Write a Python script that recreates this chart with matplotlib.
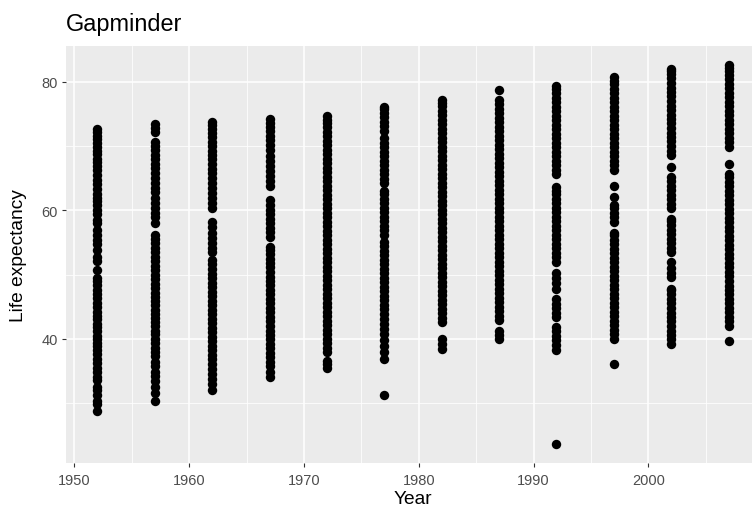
import matplotlib.pyplot as plt
import numpy as np
import pandas as pd

plt.rcParams['font.family'] = ['Liberation Sans', 'DejaVu Sans']

# life expectancy values, one list per survey year
years = [1952, 1957, 1962, 1967, 1972, 1977, 1982, 1987, 1992, 1997, 2002, 2007]

life_1952 = [28.80, 29.90, 30.33, 31.29, 31.98, 32.50, 33.61, 34.08, 34.81, 35.46, 36.32, 36.93,
             37.58, 38.22, 38.87, 39.41, 39.98, 40.41, 41.21, 41.91, 42.27, 43.07, 43.64, 44.26,
             45.01, 45.63, 46.31, 47.00, 47.62, 48.45, 49.02, 49.50, 50.79, 52.13, 52.72, 53.82,
             54.75, 55.45, 56.20, 57.00, 57.99, 58.53, 59.42, 60.00, 60.86, 61.42, 62.00, 62.61,
             63.30, 64.03, 64.80, 65.51, 66.22, 66.91, 67.50, 68.00, 68.75, 69.30, 69.84, 70.42,
             71.07, 71.62, 72.13, 72.67]
life_1957 = [30.33, 31.57, 32.47, 33.49, 34.20, 34.91, 35.76, 36.46, 37.28, 38.00, 38.60, 39.33,
             40.02, 40.72, 41.28, 41.95, 42.62, 43.30, 43.87, 44.47, 45.25, 45.87, 46.50, 47.13,
             47.91, 48.61, 49.33, 50.02, 50.73, 51.40, 52.06, 52.81, 53.54, 54.20, 54.96, 55.62,
             56.14, 58.10, 58.91, 59.59, 60.37, 61.17, 61.99, 62.81, 63.50, 64.29, 65.03, 65.75,
             66.52, 67.20, 67.96, 68.69, 69.37, 70.02, 70.60, 72.20, 72.87, 73.47]
life_1962 = [32.00, 33.02, 33.81, 34.59, 35.31, 36.03, 36.82, 37.49, 38.24, 38.92, 39.60, 40.32,
             41.00, 41.72, 42.41, 43.13, 43.83, 44.51, 45.20, 45.93, 46.62, 47.30, 48.01, 48.73,
             49.42, 50.11, 50.82, 51.60, 52.31, 53.56, 54.12, 54.88, 55.71, 56.48, 57.43, 58.21,
             60.33, 61.07, 61.89, 62.71, 63.52, 64.28, 65.03, 65.82, 66.51, 67.20, 67.92, 68.62,
             69.30, 70.03, 70.71, 71.42, 72.03, 72.67, 73.23, 73.68]
life_1967 = [34.02, 34.91, 35.73, 36.44, 37.12, 37.83, 38.52, 39.20, 39.91, 40.63, 41.31, 42.02,
             42.72, 43.41, 44.12, 44.83, 45.52, 46.21, 46.92, 47.61, 48.32, 49.03, 49.71, 50.42,
             51.13, 51.82, 52.51, 53.22, 53.81, 54.34, 55.93, 56.62, 57.31, 58.02, 58.71, 59.43,
             60.12, 60.91, 61.62, 63.72, 64.53, 65.31, 66.12, 66.93, 67.72, 68.51, 69.32, 70.13,
             70.92, 71.63, 72.31, 73.02, 73.61, 74.16]
life_1972 = [35.40, 36.09, 36.49, 37.91, 38.62, 39.31, 40.03, 40.72, 41.44, 42.11, 42.83, 43.52,
             44.21, 44.93, 45.62, 46.31, 47.02, 47.73, 48.42, 49.11, 49.83, 50.52, 51.21, 51.93,
             52.61, 53.33, 54.01, 54.72, 55.42, 56.11, 56.83, 57.52, 58.21, 58.92, 59.61, 60.33,
             61.02, 61.72, 62.43, 63.11, 63.82, 64.53, 65.21, 65.93, 66.62, 67.31, 68.02, 68.71,
             69.42, 70.11, 70.82, 71.51, 72.22, 72.91, 73.52, 74.13, 74.72]
life_1977 = [31.22, 36.90, 38.02, 38.91, 39.82, 40.71, 41.52, 42.31, 43.12, 43.91, 44.62, 45.31,
             46.02, 46.71, 47.42, 48.11, 48.82, 49.51, 50.22, 50.91, 51.62, 52.31, 53.02, 53.71,
             54.42, 55.03, 56.22, 56.91, 57.62, 58.31, 59.02, 59.71, 60.42, 61.11, 61.82, 62.51,
             63.02, 64.21, 64.92, 65.61, 66.32, 67.01, 67.72, 68.41, 69.12, 69.81, 70.52, 71.21,
             72.42, 73.11, 73.82, 74.51, 75.22, 75.71, 76.11]
life_1982 = [38.45, 39.21, 40.02, 42.61, 43.32, 44.01, 44.72, 45.41, 46.12, 46.81, 47.52, 48.21,
             48.92, 49.61, 50.32, 51.01, 51.72, 52.41, 53.12, 53.81, 54.52, 55.21, 55.92, 56.61,
             57.32, 58.01, 58.72, 59.41, 60.12, 60.81, 61.52, 62.21, 62.92, 63.61, 64.32, 65.01,
             65.72, 66.41, 67.12, 67.81, 68.52, 69.21, 69.92, 70.61, 71.32, 72.01, 72.72, 73.41,
             74.12, 74.81, 75.52, 76.21, 76.72, 77.11]
life_1987 = [39.91, 40.62, 41.31, 42.92, 43.61, 44.32, 45.01, 45.72, 46.41, 47.12, 47.81, 48.52,
             49.21, 49.92, 50.61, 51.32, 52.01, 52.72, 53.41, 54.12, 54.81, 55.52, 56.21, 56.92,
             57.61, 58.32, 59.01, 59.72, 60.41, 61.12, 61.81, 62.52, 63.21, 63.92, 64.61, 65.32,
             66.01, 66.72, 67.41, 68.12, 68.81, 69.52, 70.21, 70.92, 71.61, 72.32, 73.01, 73.72,
             74.41, 75.12, 75.81, 76.52, 77.21, 78.67]
life_1992 = [23.60, 38.33, 39.06, 39.81, 40.52, 41.22, 41.91, 43.41, 44.09, 44.78, 45.50, 46.20,
             47.82, 48.63, 49.41, 50.19, 52.00, 52.71, 53.43, 54.12, 54.84, 55.53, 56.24, 56.92,
             57.63, 58.34, 59.02, 59.73, 60.41, 61.12, 61.83, 62.51, 63.03, 63.60, 65.61, 66.32,
             67.04, 67.73, 68.42, 69.11, 69.82, 70.53, 71.22, 71.93, 72.61, 73.32, 74.03, 74.72,
             75.41, 76.12, 76.83, 77.52, 78.23, 78.82, 79.36]
life_1997 = [36.09, 40.01, 40.72, 41.43, 42.11, 42.82, 43.53, 44.21, 44.92, 45.63, 46.31, 47.02,
             47.73, 48.42, 49.11, 49.82, 50.53, 51.21, 51.92, 52.63, 53.31, 54.02, 54.73, 55.42,
             56.11, 56.52, 58.22, 58.91, 59.63, 60.32, 60.81, 62.03, 63.72, 66.31, 67.02, 67.73,
             68.41, 69.12, 69.83, 70.52, 71.21, 71.92, 72.63, 73.31, 74.02, 74.71, 75.42, 76.11,
             76.82, 77.51, 78.22, 78.91, 79.62, 80.19, 80.69]
life_2002 = [39.19, 39.92, 40.63, 41.31, 42.02, 42.73, 43.42, 44.11, 44.82, 45.53, 46.21, 46.92,
             47.63, 47.81, 49.61, 50.32, 51.03, 51.91, 53.52, 54.21, 54.93, 55.62, 56.31, 57.02,
             57.73, 58.41, 58.72, 60.31, 61.02, 61.73, 62.42, 63.11, 63.82, 64.53, 65.20, 66.81,
             68.62, 69.31, 70.02, 70.73, 71.42, 72.11, 72.82, 73.53, 74.22, 74.91, 75.62, 76.31,
             77.02, 77.73, 78.42, 79.11, 79.82, 80.53, 81.21, 81.63, 82.00]
life_2007 = [39.61, 42.08, 42.73, 43.44, 44.13, 44.82, 45.53, 46.24, 46.92, 47.63, 48.31, 49.02,
             49.73, 50.44, 51.12, 51.83, 52.52, 53.21, 53.92, 54.63, 55.32, 56.01, 56.72, 57.43,
             58.12, 58.81, 59.52, 60.23, 60.92, 61.63, 62.32, 63.01, 63.72, 64.43, 65.12, 65.71,
             67.21, 69.92, 70.61, 71.32, 72.03, 72.72, 73.41, 74.12, 74.83, 75.52, 76.21, 76.92,
             77.63, 78.32, 79.01, 79.72, 80.43, 81.12, 81.73, 82.21, 82.60]

life_by_year = [life_1952, life_1957, life_1962, life_1967, life_1972, life_1977,
                life_1982, life_1987, life_1992, life_1997, life_2002, life_2007]

df = pd.DataFrame({
    'year': np.repeat(years, [len(v) for v in life_by_year]),
    'lifeExp': np.concatenate(life_by_year),
})

fig = plt.figure(figsize=(7.52, 5.1), dpi=100)
# panel runs a little past the right edge, like the cropped reference
ax = fig.add_axes([0.0876, 0.0896, 0.9233, 0.818])
ax.set_facecolor('#EBEBEB')
for s in ax.spines.values():
    s.set_visible(False)

ax.scatter(df['year'], df['lifeExp'], s=46, color='black', linewidths=0, zorder=3)

ax.set_xlim(1949.25, 2009.75)
ax.set_ylim(20.65, 85.55)
ax.set_xticks([1950, 1960, 1970, 1980, 1990, 2000])
ax.set_yticks([40, 60, 80])
ax.set_xticks([1955, 1965, 1975, 1985, 1995, 2005], minor=True)
ax.set_yticks([30, 50, 70], minor=True)

ax.set_axisbelow(True)
ax.grid(which='major', color='white', linewidth=1.1)
ax.grid(which='minor', color='white', linewidth=0.55)

ax.tick_params(which='major', color='#333333', length=3, width=0.8,
               labelcolor='#4D4D4D', labelsize=10.5)
ax.tick_params(axis='x', pad=4)
ax.tick_params(axis='y', pad=3)
ax.tick_params(which='minor', length=0)

ax.set_xlabel('Year', fontsize=13.8, va='baseline')
ax.xaxis.set_label_coords(0.5, -0.0963)
ax.set_ylabel('Life expectancy', fontsize=13.8, va='center')
ax.yaxis.set_label_coords(-0.0676, 0.5)
fig.text(66 / 752, 1 - 31 / 510, 'Gapminder', fontsize=16.9, va='baseline', ha='left')

fig.savefig('out.png', dpi=100)
